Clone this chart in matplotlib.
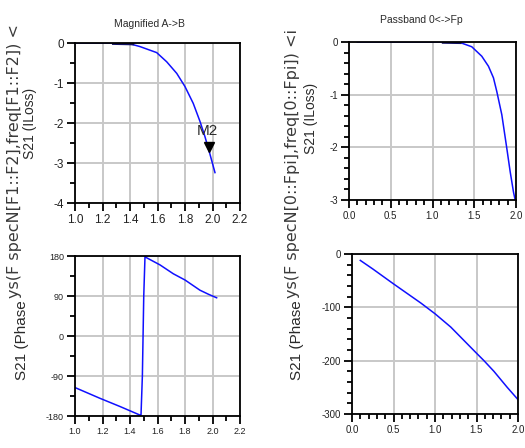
import numpy as np
import matplotlib.pyplot as plt
from matplotlib.ticker import MultipleLocator

plt.rcParams['font.family'] = ['Liberation Sans', 'DejaVu Sans']
plt.rcParams['axes.unicode_minus'] = False

# Magnified A->B : insertion loss (dB)
tl_f = [1.0, 1.1, 1.2, 1.3, 1.4, 1.473, 1.594, 1.667, 1.74, 1.80, 1.86, 1.91, 1.945, 1.98, 2.018]
tl_db = [0, 0, 0, -0.005, -0.02, -0.09, -0.24, -0.47, -0.76, -1.09, -1.51, -1.97, -2.34, -2.76, -3.24]
tl_dense_f = [1.28, 1.42]
tl_dense_db = [-0.01, -0.02]
m2_f, m2_db = 1.975, -2.6

# Passband 0<->Fp : insertion loss (dB)
tr_f = [0.1, 0.5, 1.0, 1.13, 1.33, 1.47, 1.59, 1.67, 1.73, 1.77, 1.83, 1.89, 1.93, 1.97, 1.99]
tr_db = [0, 0, 0, 0, -0.01, -0.09, -0.27, -0.46, -0.68, -0.94, -1.38, -2.02, -2.46, -2.85, -3.0]
tr_dense_f = [1.13, 1.33]
tr_dense_db = [-0.005, -0.01]

# Magnified A->B : phase (deg)
bl_f = [1.0, 1.18, 1.33, 1.473, 1.48, 1.49, 1.50, 1.509, 1.618, 1.715, 1.80, 1.909, 1.97, 2.03]
bl_ph = [-116, -140, -159, -178, -178, -90, 90, 178, 160, 140, 126, 103, 94, 86]

# Passband 0<->Fp : phase (deg)
br_f = [0.1, 0.25, 0.5, 0.83, 1.0, 1.19, 1.5, 1.59, 1.71, 1.87, 2.0]
br_ph = [-12, -28, -56, -92, -112, -137, -186, -200, -220, -250, -273]

W, H = 525, 448
fig = plt.figure(figsize=(W / 100, H / 100), dpi=100)


def box(x0, y0, x1, y1):
    return [x0 / W, 1 - y1 / H, (x1 - x0) / W, (y1 - y0) / H]


def style(ax, xmaj, xmin, ymaj, ymin, fs):
    ax.xaxis.set_major_locator(MultipleLocator(xmaj))
    ax.xaxis.set_minor_locator(MultipleLocator(xmin))
    ax.yaxis.set_major_locator(MultipleLocator(ymaj))
    ax.yaxis.set_minor_locator(MultipleLocator(ymin))
    ax.grid(True, which='major', color='#c8c8c8', lw=1.4)
    ax.set_axisbelow(True)
    for s in ax.spines.values():
        s.set_color('black')
        s.set_linewidth(1.3)
    ax.tick_params(which='major', length=6, width=1.3, direction='out',
                   labelsize=fs, pad=2, colors='black', labelcolor='#222222')
    ax.tick_params(which='minor', length=3.5, width=1.3, direction='out')
    ax.xaxis.set_major_formatter(lambda v, p: f'{v:.1f}')


blue = '#1010ff'
txt = '#2a2a2a'

ax1 = fig.add_axes(box(75, 43, 240, 203))
ax1.plot(tl_f, tl_db, color=blue, lw=1.1)
ax1.plot(tl_dense_f, tl_dense_db, color='#101060', lw=2.2)
ax1.plot([m2_f], [m2_db], marker='v', color='black', ms=6.5, ls='none')
ax1.text(m2_f - 0.01, m2_db + 0.4, 'M2', fontsize=11, color=txt, ha='center', va='center')
ax1.set_xlim(1.0, 2.2)
ax1.set_ylim(-4, 0)
style(ax1, 0.2, 0.1, 1, 0.5, 8.5)

ax2 = fig.add_axes(box(349, 42, 516, 200))
ax2.plot(tr_f, tr_db, color=blue, lw=1.1)
ax2.plot(tr_dense_f, tr_dense_db, color='#101060', lw=2.2)
ax2.set_xlim(0, 2.0)
ax2.set_ylim(-3, 0)
style(ax2, 0.5, 0.1, 1, 0.2, 7)

ax3 = fig.add_axes(box(75, 256, 240, 416))
ax3.plot(bl_f, bl_ph, color=blue, lw=1.1)
ax3.set_xlim(1.0, 2.2)
ax3.set_ylim(-180, 180)
style(ax3, 0.2, 0.1, 90, 45, 6.5)

ax4 = fig.add_axes(box(352, 254, 518, 414))
ax4.plot(br_f, br_ph, color=blue, lw=1.1)
ax4.set_xlim(0, 2.0)
ax4.set_ylim(-300, 0)
style(ax4, 0.5, 0.1, 100, 20, 7)

# titles
fig.text(149 / W, 1 - 24 / H, 'Magnified A->B', fontsize=7.5, color=txt, ha='center', va='center')
fig.text(421 / W, 1 - 20 / H, 'Passband 0<->Fp', fontsize=7.5, color=txt, ha='center', va='center')

# axis labels (overlapping, as in the original)
wide = ['DejaVu Sans']
fig.text(30 / W, 1 - 123 / H, 'S21 (ILoss)', fontsize=10, rotation=90, color=txt,
         ha='center', va='center')
fig.text(15 / W, 1 - 298 / H, 'ys(F specN[F1::F2],freq[F1::F2]) <', fontsize=11.5, rotation=90,
         color='#3a3a3a', ha='center', va='bottom', family=wide)
fig.text(22 / W, 1 - 380 / H, 'S21 (Phase', fontsize=11, rotation=90, color=txt,
         ha='center', va='bottom')

fig.text(311 / W, 1 - 118 / H, 'S21 (ILoss)', fontsize=10, rotation=90, color=txt,
         ha='center', va='center')
fig.text(292 / W, 1 - 298 / H, 'ys(F specN[0::Fpi],freq[0::Fpi]) <i', fontsize=11.5, rotation=90,
         color='#3a3a3a', ha='center', va='bottom', family=wide)
fig.text(297 / W, 1 - 380 / H, 'S21 (Phase', fontsize=11, rotation=90, color=txt,
         ha='center', va='bottom')

fig.savefig('out.png', dpi=100)
